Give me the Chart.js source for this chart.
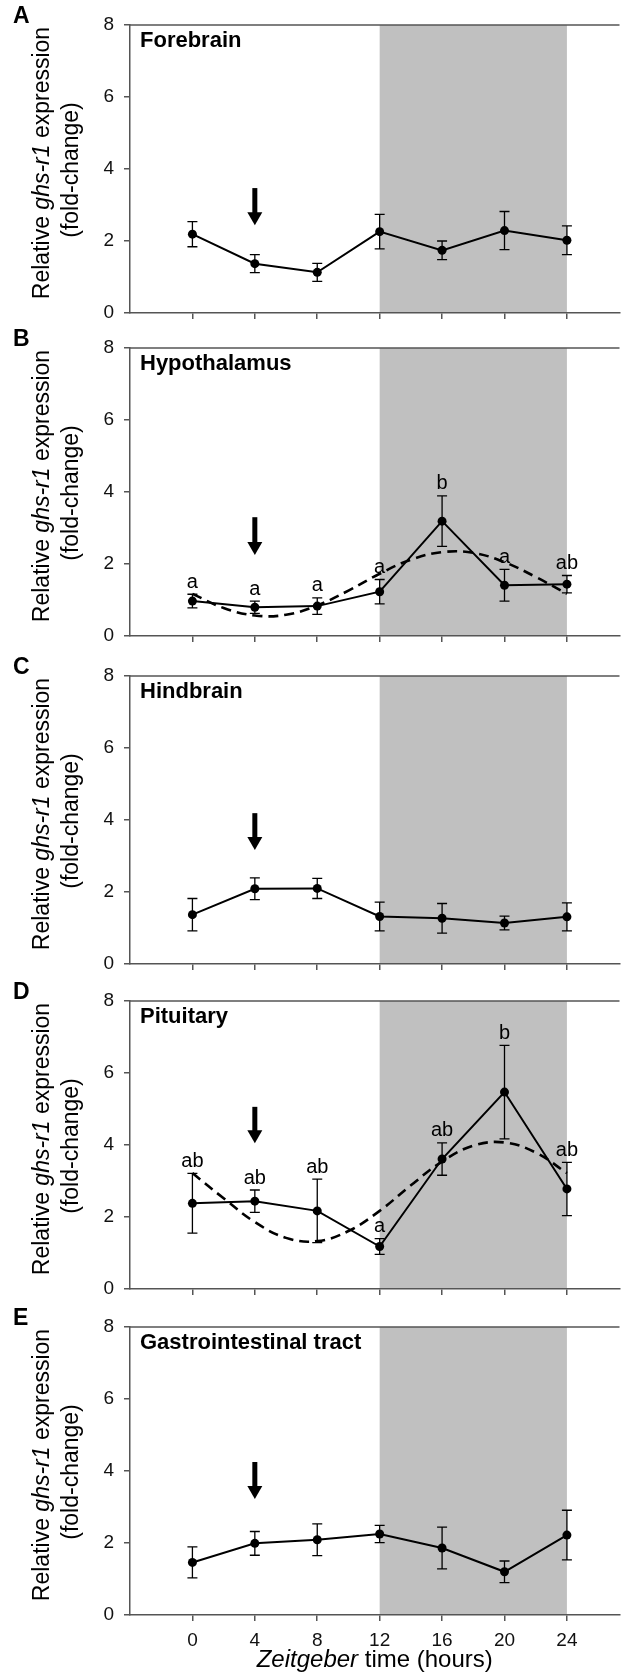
<!DOCTYPE html>
<html lang="en">
<head>
<meta charset="UTF-8">
<title>ghs-r1 expression across Zeitgeber time</title>
<script src="https://cdn.jsdelivr.net/npm/chart.js"></script>
<style>
    body {
        margin: 0;
        background: #fff;
    }
    .figure {
        position: relative;
        width: 624px;
        height: 1680px;
    }
    .figure canvas {
        position: absolute;
        left: 0;
    }
</style>
</head>
<body>
<div class="figure" id="figure"></div>

<script>
    // sampling times (h) and their tick labels
    const hours = [0, 4, 8, 12, 16, 20, 24];
    const hourLabels = ['0', '4', '8', '12', '16', '20', '24'];
    const fitHours = [0, 2, 4, 6, 8, 10, 12, 14, 16, 18, 20, 22, 24];
    const darkPhase = [12, 24];
    const arrowHour = 4;

    const panelLetters = ['A', 'B', 'C', 'D', 'E'];
    const regionNames = ['Forebrain', 'Hypothalamus', 'Hindbrain', 'Pituitary', 'Gastrointestinal tract'];

    // mean fold-change and SEM per region
    const forebrainMean = [2.19, 1.37, 1.13, 2.26, 1.74, 2.29, 2.02];
    const forebrainSem = [0.35, 0.25, 0.25, 0.48, 0.26, 0.53, 0.40];
    const hypothalamusMean = [0.97, 0.80, 0.83, 1.23, 3.19, 1.41, 1.44];
    const hypothalamusSem = [0.19, 0.17, 0.23, 0.34, 0.70, 0.44, 0.24];
    const hindbrainMean = [1.37, 2.09, 2.10, 1.32, 1.27, 1.14, 1.31];
    const hindbrainSem = [0.45, 0.30, 0.28, 0.40, 0.41, 0.19, 0.39];
    const pituitaryMean = [2.38, 2.44, 2.17, 1.18, 3.61, 5.47, 2.78];
    const pituitarySem = [0.83, 0.31, 0.88, 0.22, 0.45, 1.30, 0.74];
    const giMean = [1.46, 1.99, 2.09, 2.25, 1.86, 1.20, 2.22];
    const giSem = [0.43, 0.33, 0.44, 0.24, 0.58, 0.30, 0.69];

    // significance letters
    const hypothalamusGroups = ['a', 'a', 'a', 'a', 'b', 'a', 'ab'];
    const pituitaryGroups = ['ab', 'ab', 'ab', 'a', 'ab', 'b', 'ab'];

    // dashed rhythm fits
    const hypothalamusFit = [1.17, 0.78, 0.57, 0.59, 0.85, 1.26, 1.73, 2.12, 2.33, 2.31, 2.05, 1.64, 1.17];
    const pituitaryFit = [3.22, 2.52, 1.86, 1.42, 1.33, 1.61, 2.17, 2.88, 3.54, 3.98, 4.07, 3.79, 3.22];

    // arrow start / tip (fold-change units) per panel
    const arrowFrom = [3.47, 3.30, 4.19, 5.06, 4.25];
    const arrowTo = [2.44, 2.25, 3.17, 4.05, 3.22];

    const panels = [
        { mean: forebrainMean, sem: forebrainSem, groups: null, fit: null },
        { mean: hypothalamusMean, sem: hypothalamusSem, groups: hypothalamusGroups, fit: hypothalamusFit },
        { mean: hindbrainMean, sem: hindbrainSem, groups: null, fit: null },
        { mean: pituitaryMean, sem: pituitarySem, groups: pituitaryGroups, fit: pituitaryFit },
        { mean: giMean, sem: giSem, groups: null, fit: null }
    ];

    const FONT = '"Liberation Sans", Arial, Helvetica, sans-serif';
    const AXIS = '#555';
    const canvasTops = [0, 323, 651, 976, 1302];

    function drawMixed(ctx, parts, cx, cy, size) {
        let widths = parts.map(p => {
            ctx.font = (p[1] ? 'italic ' : '') + size + 'px ' + FONT;
            return ctx.measureText(p[0]).width;
        });
        let x = cx - widths.reduce((a, b) => a + b, 0) / 2;
        parts.forEach((p, i) => {
            ctx.font = (p[1] ? 'italic ' : '') + size + 'px ' + FONT;
            ctx.fillText(p[0], x, cy);
            x += widths[i];
        });
    }

    const decor = {
        id: 'decor',
        beforeDraw(chart, args, opts) {
            const ctx = chart.ctx, a = chart.chartArea, xs = chart.scales.x;
            ctx.save();
            ctx.fillStyle = '#c0c0c0';
            let x1 = xs.getPixelForValue(darkPhase[0]), x2 = xs.getPixelForValue(darkPhase[1]);
            ctx.fillRect(x1, a.top, x2 - x1, a.bottom - a.top);
            ctx.restore();
        },
        afterDatasetsDraw(chart, args, opts) {
            const ctx = chart.ctx, xs = chart.scales.x, ys = chart.scales.y;
            const p = panels[opts.index];
            ctx.save();
            ctx.strokeStyle = '#000';
            ctx.lineWidth = 1.3;
            ctx.fillStyle = '#000';
            hours.forEach((h, i) => {
                let x = xs.getPixelForValue(h);
                let yHi = ys.getPixelForValue(p.mean[i] + p.sem[i]);
                let yLo = ys.getPixelForValue(p.mean[i] - p.sem[i]);
                ctx.beginPath();
                ctx.moveTo(x, yHi); ctx.lineTo(x, yLo);
                ctx.moveTo(x - 5, yHi); ctx.lineTo(x + 5, yHi);
                ctx.moveTo(x - 5, yLo); ctx.lineTo(x + 5, yLo);
                ctx.stroke();
                if (p.groups) {
                    ctx.font = '20px ' + FONT;
                    ctx.textAlign = 'center';
                    ctx.textBaseline = 'middle';
                    ctx.fillText(p.groups[i], x, yHi - 12);
                }
            });
            // light-onset arrow
            let ax = xs.getPixelForValue(arrowHour);
            let y1 = ys.getPixelForValue(arrowFrom[opts.index]);
            let y2 = ys.getPixelForValue(arrowTo[opts.index]);
            ctx.fillRect(ax - 2.5, y1, 5, y2 - y1 - 11);
            ctx.beginPath();
            ctx.moveTo(ax - 7.5, y2 - 13);
            ctx.lineTo(ax + 7.5, y2 - 13);
            ctx.lineTo(ax, y2);
            ctx.closePath();
            ctx.fill();
            ctx.restore();
        },
        afterDraw(chart, args, opts) {
            const ctx = chart.ctx, a = chart.chartArea;
            ctx.save();
            // top frame line
            ctx.strokeStyle = AXIS;
            ctx.lineWidth = 1.5;
            ctx.beginPath();
            ctx.moveTo(a.left, a.top);
            ctx.lineTo(a.right, a.top);
            ctx.stroke();

            ctx.fillStyle = '#000';
            ctx.textAlign = 'left';
            ctx.textBaseline = 'middle';
            ctx.font = 'bold 23px ' + FONT;
            ctx.fillText(panelLetters[opts.index], 13, a.top - 8);

            ctx.textBaseline = 'alphabetic';
            ctx.font = 'bold 22px ' + FONT;
            ctx.fillText(regionNames[opts.index], 140, a.top + 22);

            // y title
            ctx.textAlign = 'left';
            ctx.textBaseline = 'middle';
            ctx.save();
            ctx.translate(43, a.top + 138);
            ctx.rotate(-Math.PI / 2);
            drawMixed(ctx, [['Relative ', false], ['ghs-r1', true], [' expression', false]], 0, 0, 23);
            ctx.restore();
            ctx.save();
            ctx.translate(72, a.top + 145);
            ctx.rotate(-Math.PI / 2);
            drawMixed(ctx, [['(fold-change)', false]], 0, 0, 23);
            ctx.restore();

            if (opts.index === panels.length - 1) {
                drawMixed(ctx, [['Zeitgeber', true], [' time (hours)', false]], (a.left + a.right) / 2, a.bottom + 45, 24);
            }
            ctx.restore();
        }
    };

    const fig = document.getElementById('figure');

    panels.forEach((p, idx) => {
        const last = idx === panels.length - 1;
        const canvas = document.createElement('canvas');
        canvas.width = 624;
        canvas.height = last ? 378 : 340;
        canvas.style.top = canvasTops[idx] + 'px';
        fig.appendChild(canvas);

        const datasets = [{
            data: hours.map((h, i) => ({ x: h, y: p.mean[i] })),
            borderColor: '#000',
            backgroundColor: '#000',
            borderWidth: 2,
            pointRadius: 4.5,
            pointBorderWidth: 0,
            tension: 0
        }];
        if (p.fit) {
            datasets.push({
                data: fitHours.map((h, i) => ({ x: h, y: p.fit[i] })),
                borderColor: '#000',
                borderWidth: 2.6,
                borderDash: [10, 6],
                pointRadius: 0,
                tension: 0.4
            });
        }

        new Chart(canvas.getContext('2d'), {
            type: 'line',
            data: { datasets: datasets },
            options: {
                responsive: false,
                animation: false,
                layout: { padding: { top: 25, left: 0, right: 0, bottom: 0 } },
                plugins: {
                    legend: { display: false },
                    tooltip: { enabled: false },
                    decor: { index: idx }
                },
                scales: {
                    x: {
                        type: 'linear',
                        min: -4,
                        max: 27.37,
                        afterBuildTicks: s => { s.ticks = hours.map(v => ({ value: v })); },
                        afterFit: s => { s.height = last ? 65 : 27; },
                        grid: { drawOnChartArea: false, drawTicks: true, tickLength: 6, color: AXIS, lineWidth: 1.5 },
                        border: { color: AXIS, width: 1.5 },
                        ticks: {
                            padding: 8,
                            maxRotation: 0,
                            autoSkip: false,
                            color: last ? '#111' : 'rgba(0,0,0,0)',
                            font: { family: FONT, size: 19 },
                            callback: (v, i) => hourLabels[i]
                        }
                    },
                    y: {
                        min: 0,
                        max: 8,
                        afterFit: s => { s.width = 130; },
                        grid: { drawOnChartArea: false, drawTicks: true, tickLength: 6, color: AXIS, lineWidth: 1.5 },
                        border: { color: AXIS, width: 1.5 },
                        ticks: {
                            stepSize: 2,
                            padding: 10,
                            color: '#111',
                            font: { family: FONT, size: 19 }
                        }
                    }
                }
            },
            plugins: [decor]
        });
    });
</script>
</body>
</html>
